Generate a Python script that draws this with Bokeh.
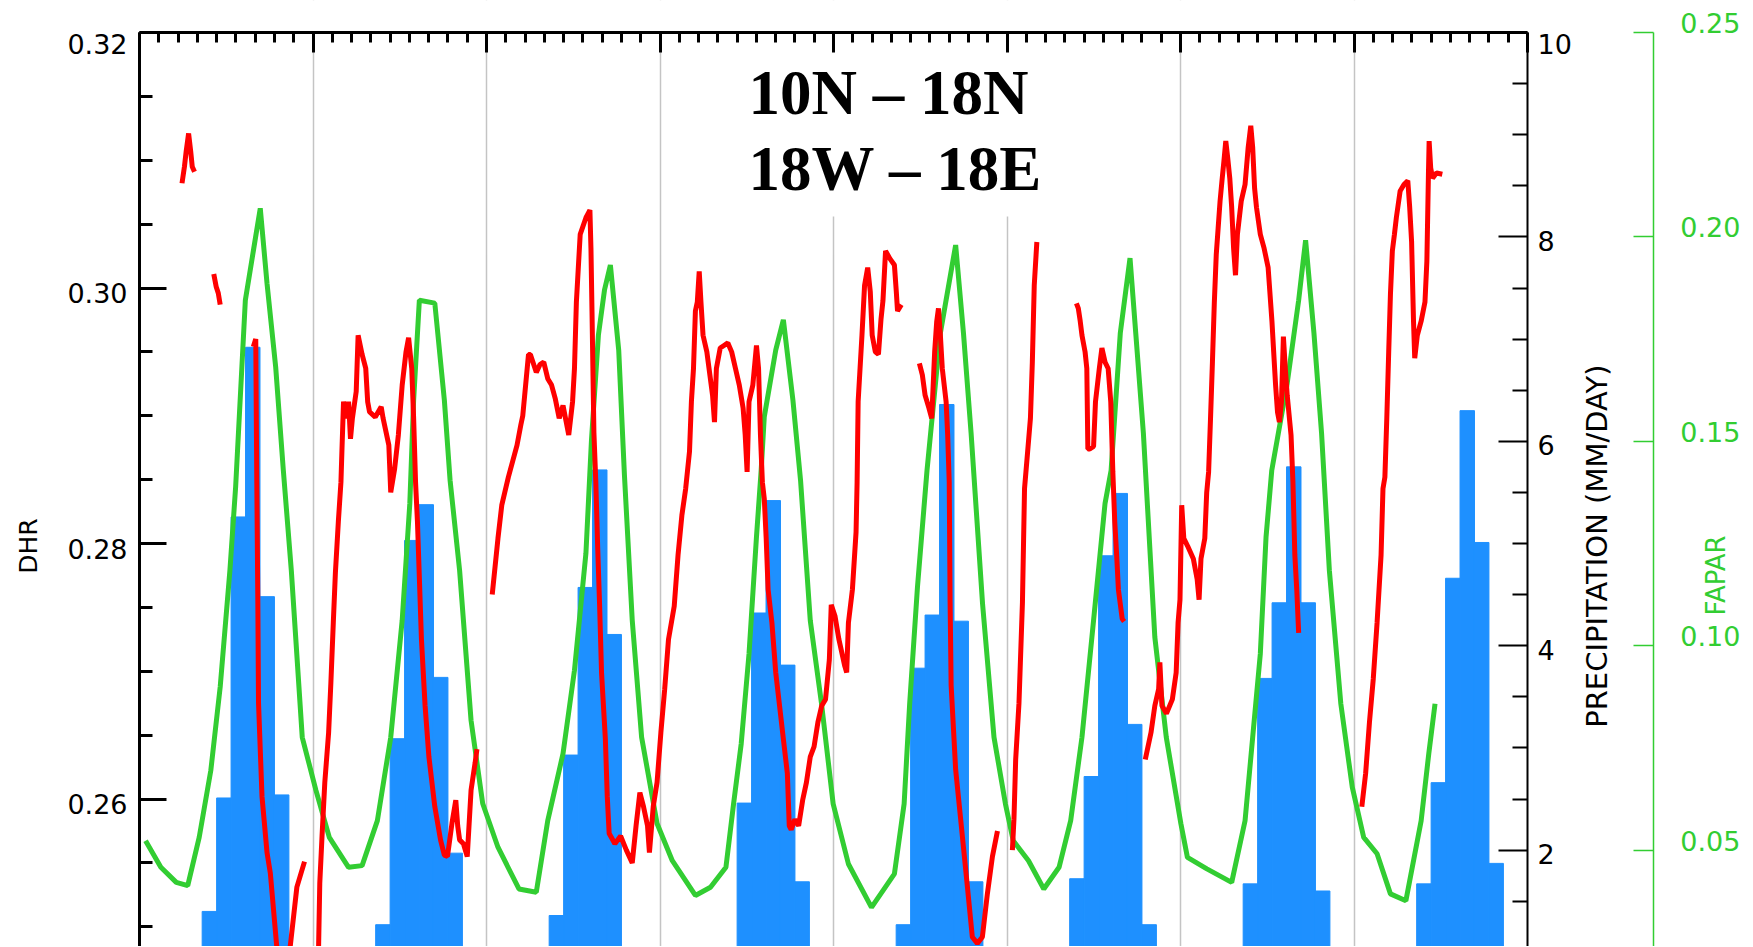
import math
from bokeh.plotting import figure
from bokeh.models import (Range1d, LinearAxis, FixedTicker, PrintfTickFormatter,
                          Grid, BoxAnnotation, Label)
from bokeh.embed import file_html
from bokeh.resources import INLINE

# ---------------- data ----------------
# monthly precipitation (mm/day), months Jan..Dec, one row per season (8 years)
precip_year1 = [0.0, 0.0, 0.1, 0.4, 1.40, 2.51, 5.26, 6.92, 4.48, 2.54, 0.6, 0.0]
precip_year2 = [0.0, 0.0, 0.1, 0.4, 1.27, 3.09, 5.03, 5.38, 3.69, 1.97, 0.5, 0.0]
precip_year3 = [0.0, 0.0, 0.1, 0.5, 1.36, 2.93, 4.57, 5.72, 4.11, 0.9, 0.3, 0.0]
precip_year4 = [0.0, 0.0, 0.1, 0.3, 0.9, 2.46, 4.32, 5.42, 3.81, 1.69, 0.4, 0.0]
precip_year5 = [0.0, 0.0, 0.1, 0.4, 1.27, 3.78, 4.30, 6.36, 4.24, 1.69, 0.4, 0.0]
precip_year6 = [0.0, 0.0, 0.1, 0.5, 1.72, 2.72, 4.88, 5.49, 3.23, 1.27, 0.3, 0.0]
precip_year7 = [0.0, 0.0, 0.1, 0.4, 1.67, 3.68, 4.42, 5.75, 4.42, 1.60, 0.4, 0.0]
precip_year8 = [0.0, 0.0, 0.1, 0.5, 1.67, 2.66, 4.66, 6.30, 5.01, 1.87, 0.4, 0.0]
precip_years = [precip_year1, precip_year2, precip_year3, precip_year4,
                precip_year5, precip_year6, precip_year7, precip_year8]

# FAPAR (time in years from start, value)
fapar_points = [
    (0.035, 0.0523), (0.123, 0.0458), (0.212, 0.0421), (0.278, 0.0413), (0.344, 0.0531),
    (0.411, 0.0695), (0.465, 0.0899), (0.521, 0.1184), (0.554, 0.1388), (0.610, 0.1845),
    (0.657, 0.1968), (0.696, 0.2070), (0.735, 0.1886), (0.785, 0.1681), (0.829, 0.1429),
    (0.875, 0.1184), (0.938, 0.0776), (1.017, 0.0646), (1.094, 0.0531), (1.205, 0.0458),
    (1.283, 0.0462), (1.371, 0.0572), (1.448, 0.0776), (1.514, 0.1062), (1.558, 0.1348),
    (1.580, 0.1601), (1.613, 0.1845), (1.702, 0.1838), (1.757, 0.1601), (1.790, 0.1405),
    (1.845, 0.1184), (1.911, 0.0817), (1.978, 0.0614), (2.066, 0.0507), (2.187, 0.0405),
    (2.287, 0.0397), (2.353, 0.0572), (2.441, 0.0736), (2.507, 0.0940), (2.573, 0.1226),
    (2.605, 0.1503), (2.645, 0.1760), (2.680, 0.1870), (2.714, 0.1931), (2.762, 0.1723),
    (2.795, 0.1417), (2.840, 0.1062), (2.894, 0.0776), (2.983, 0.0565), (3.071, 0.0474),
    (3.204, 0.0389), (3.291, 0.0409), (3.380, 0.0458), (3.424, 0.0613), (3.468, 0.0760),
    (3.513, 0.0980), (3.556, 0.1266), (3.583, 0.1429), (3.601, 0.1560), (3.667, 0.1723),
    (3.711, 0.1797), (3.766, 0.1601), (3.810, 0.1405), (3.866, 0.1062), (3.931, 0.0858),
    (3.998, 0.0613), (4.086, 0.0466), (4.219, 0.0360), (4.351, 0.0442), (4.407, 0.0613),
    (4.439, 0.0858), (4.484, 0.1144), (4.539, 0.1429), (4.616, 0.1765), (4.704, 0.1980),
    (4.749, 0.1765), (4.793, 0.1520), (4.859, 0.1103), (4.925, 0.0776), (4.991, 0.0613),
    (5.036, 0.0523), (5.124, 0.0474), (5.212, 0.0405), (5.300, 0.0458), (5.367, 0.0572),
    (5.432, 0.0776), (5.499, 0.1062), (5.565, 0.1348), (5.600, 0.1429), (5.653, 0.1765),
    (5.709, 0.1948), (5.742, 0.1765), (5.786, 0.1520), (5.852, 0.1021), (5.918, 0.0776),
    (6.002, 0.0565), (6.040, 0.0482), (6.152, 0.0454), (6.295, 0.0421), (6.372, 0.0572),
    (6.416, 0.0776), (6.460, 0.0980), (6.493, 0.1266), (6.526, 0.1429), (6.615, 0.1642),
    (6.681, 0.1845), (6.721, 0.1992), (6.769, 0.1765), (6.813, 0.1520), (6.858, 0.1184),
    (6.924, 0.0858), (6.990, 0.0654), (7.056, 0.0531), (7.133, 0.0491), (7.210, 0.0393),
    (7.299, 0.0376), (7.387, 0.0572), (7.431, 0.0736), (7.467, 0.0858),
]

# DHR segments (time in years from start, value); gaps between segments
dhr_seg_a = [(0.245, 0.3082), (0.259, 0.3095), (0.269, 0.3107), (0.283, 0.3121),
             (0.295, 0.3107), (0.304, 0.3095), (0.317, 0.3091)]
dhr_seg_b = [(0.428, 0.3011), (0.442, 0.3001), (0.454, 0.2996), (0.465, 0.2987)]
dhr_seg_c = [(0.656, 0.2954), (0.670, 0.2960), (0.676, 0.2848), (0.682, 0.2754), (0.686, 0.2675),
             (0.706, 0.2602), (0.735, 0.2558), (0.754, 0.2542), (0.792, 0.2483), (0.829, 0.2448),
             (0.869, 0.2485), (0.907, 0.2531), (0.951, 0.2551)]
dhr_seg_d = [(1.010, 0.2448), (1.032, 0.2483), (1.039, 0.2534), (1.052, 0.2571), (1.068, 0.2613),
             (1.090, 0.2652), (1.103, 0.2691), (1.117, 0.2738), (1.129, 0.2777), (1.146, 0.2817),
             (1.161, 0.2848), (1.167, 0.2874), (1.176, 0.2911), (1.194, 0.2898), (1.205, 0.2911),
             (1.216, 0.2882), (1.227, 0.2898), (1.249, 0.2919), (1.260, 0.2963), (1.283, 0.2948),
             (1.304, 0.2937), (1.315, 0.2911), (1.326, 0.2903), (1.359, 0.2899), (1.393, 0.2907),
             (1.404, 0.2898), (1.437, 0.2877), (1.448, 0.2840), (1.470, 0.2858), (1.492, 0.2885),
             (1.514, 0.2924), (1.536, 0.2950), (1.551, 0.2961), (1.569, 0.2937), (1.580, 0.2898),
             (1.591, 0.2848), (1.602, 0.2817), (1.625, 0.2725), (1.646, 0.2673), (1.668, 0.2633),
             (1.702, 0.2594), (1.735, 0.2568), (1.757, 0.2556), (1.775, 0.2555), (1.801, 0.2581),
             (1.823, 0.2599), (1.834, 0.2579), (1.845, 0.2568), (1.867, 0.2565), (1.889, 0.2555),
             (1.911, 0.2607), (1.934, 0.2628), (1.945, 0.2639)]
dhr_seg_e = [(2.033, 0.2760), (2.066, 0.2804), (2.088, 0.2830), (2.126, 0.2852), (2.176, 0.2877),
             (2.198, 0.2893), (2.209, 0.2900), (2.242, 0.2948), (2.253, 0.2948), (2.287, 0.2934),
             (2.308, 0.2940), (2.330, 0.2942), (2.353, 0.2929), (2.375, 0.2924), (2.397, 0.2913),
             (2.419, 0.2898), (2.441, 0.2908), (2.474, 0.2885), (2.496, 0.2911), (2.507, 0.2937),
             (2.518, 0.2989), (2.540, 0.3042), (2.573, 0.3055), (2.596, 0.3061), (2.602, 0.3031),
             (2.608, 0.2982), (2.619, 0.2887), (2.630, 0.2848), (2.641, 0.2796), (2.652, 0.2751),
             (2.663, 0.2699), (2.685, 0.2647), (2.696, 0.2602), (2.707, 0.2573), (2.740, 0.2565),
             (2.773, 0.2571), (2.806, 0.2560), (2.840, 0.2550), (2.862, 0.2579), (2.884, 0.2605),
             (2.905, 0.2594), (2.928, 0.2579), (2.939, 0.2558), (2.961, 0.2594), (2.983, 0.2613),
             (3.005, 0.2652), (3.027, 0.2686), (3.049, 0.2725), (3.082, 0.2751), (3.104, 0.2791),
             (3.126, 0.2822), (3.148, 0.2843), (3.170, 0.2872), (3.181, 0.2911), (3.193, 0.2937),
             (3.204, 0.2982), (3.215, 0.2989), (3.226, 0.3013), (3.236, 0.2989), (3.248, 0.2963),
             (3.270, 0.2950), (3.303, 0.2916), (3.314, 0.2895), (3.325, 0.2937), (3.347, 0.2953),
             (3.369, 0.2955), (3.391, 0.2957), (3.413, 0.2950), (3.435, 0.2937), (3.457, 0.2924),
             (3.479, 0.2906), (3.491, 0.2885), (3.502, 0.2856), (3.513, 0.2911), (3.535, 0.2924),
             (3.556, 0.2955), (3.568, 0.2937), (3.579, 0.2885), (3.590, 0.2848), (3.601, 0.2835),
             (3.612, 0.2804), (3.623, 0.2764), (3.645, 0.2738), (3.667, 0.2699), (3.689, 0.2673),
             (3.711, 0.2647), (3.734, 0.2620), (3.745, 0.2579), (3.756, 0.2576), (3.777, 0.2584),
             (3.799, 0.2579), (3.822, 0.2599), (3.844, 0.2613), (3.866, 0.2633), (3.888, 0.2641),
             (3.910, 0.2660), (3.932, 0.2673), (3.954, 0.2678), (3.976, 0.2709), (3.987, 0.2752),
             (4.009, 0.2743), (4.031, 0.2725), (4.065, 0.2704), (4.076, 0.2699), (4.086, 0.2738),
             (4.109, 0.2764), (4.130, 0.2809), (4.136, 0.2848), (4.142, 0.2911), (4.164, 0.2963),
             (4.179, 0.3002), (4.197, 0.3016), (4.212, 0.2997), (4.223, 0.2963), (4.241, 0.2950),
             (4.259, 0.2948), (4.274, 0.2976), (4.285, 0.2990), (4.300, 0.3029), (4.325, 0.3023),
             (4.351, 0.3018), (4.362, 0.2997), (4.369, 0.2982), (4.391, 0.2987)]
dhr_seg_f = [(4.495, 0.2941), (4.512, 0.2932), (4.528, 0.2916), (4.550, 0.2906), (4.566, 0.2898),
             (4.573, 0.2919), (4.583, 0.2950), (4.595, 0.2974), (4.605, 0.2984), (4.616, 0.2963),
             (4.627, 0.2937), (4.649, 0.2911), (4.658, 0.2885), (4.667, 0.2848), (4.672, 0.2754),
             (4.678, 0.2689), (4.704, 0.2623), (4.733, 0.2584), (4.772, 0.2531), (4.800, 0.2492),
             (4.829, 0.2487), (4.858, 0.2492), (4.887, 0.2526), (4.916, 0.2555), (4.945, 0.2575)]
dhr_seg_g = [(5.031, 0.2560), (5.040, 0.2584), (5.050, 0.2631), (5.069, 0.2675), (5.089, 0.2754),
             (5.101, 0.2843), (5.119, 0.2872), (5.135, 0.2898), (5.146, 0.2942), (5.157, 0.3002),
             (5.172, 0.3036)]
dhr_seg_h = [(5.400, 0.2988), (5.411, 0.2984), (5.422, 0.2974), (5.432, 0.2963), (5.450, 0.2950),
             (5.460, 0.2937), (5.466, 0.2874), (5.477, 0.2874), (5.499, 0.2876), (5.510, 0.2911),
             (5.532, 0.2937), (5.547, 0.2953), (5.565, 0.2942), (5.583, 0.2937), (5.598, 0.2911),
             (5.610, 0.2856), (5.621, 0.2817), (5.632, 0.2791), (5.642, 0.2764), (5.664, 0.2741),
             (5.675, 0.2739)]
dhr_seg_i = [(5.797, 0.2631), (5.830, 0.2652), (5.852, 0.2673), (5.874, 0.2686), (5.881, 0.2707),
             (5.893, 0.2673), (5.919, 0.2667), (5.953, 0.2678), (5.975, 0.2699), (5.986, 0.2738),
             (5.997, 0.2756), (6.007, 0.2830), (6.019, 0.2804), (6.041, 0.2798), (6.074, 0.2788),
             (6.096, 0.2772), (6.107, 0.2756), (6.118, 0.2788), (6.140, 0.2804), (6.151, 0.2840),
             (6.162, 0.2856), (6.173, 0.2898), (6.184, 0.2942), (6.195, 0.2989), (6.206, 0.3026),
             (6.217, 0.3047), (6.228, 0.3068), (6.239, 0.3084), (6.250, 0.3099), (6.261, 0.3115),
             (6.272, 0.3102), (6.284, 0.3086), (6.295, 0.3063), (6.306, 0.3031), (6.317, 0.3010),
             (6.328, 0.3042), (6.339, 0.3055), (6.350, 0.3068), (6.372, 0.3081), (6.390, 0.3110),
             (6.405, 0.3127), (6.416, 0.3110), (6.427, 0.3078), (6.438, 0.3063), (6.460, 0.3042),
             (6.482, 0.3031), (6.505, 0.3016), (6.516, 0.2995), (6.527, 0.2974), (6.537, 0.2950),
             (6.548, 0.2924), (6.559, 0.2903), (6.570, 0.2895), (6.582, 0.2911), (6.593, 0.2962),
             (6.604, 0.2937), (6.615, 0.2916), (6.637, 0.2885), (6.648, 0.2848), (6.659, 0.2791),
             (6.670, 0.2764), (6.681, 0.2730)]
dhr_seg_j = [(7.045, 0.2594), (7.067, 0.2620), (7.089, 0.2660), (7.111, 0.2694), (7.133, 0.2738),
             (7.156, 0.2791), (7.167, 0.2843), (7.178, 0.2852), (7.189, 0.2898), (7.200, 0.2950),
             (7.210, 0.2995), (7.221, 0.3029), (7.233, 0.3042), (7.244, 0.3055), (7.266, 0.3076),
             (7.288, 0.3081), (7.310, 0.3084), (7.321, 0.3063), (7.332, 0.3036), (7.343, 0.2974),
             (7.350, 0.2945), (7.365, 0.2963), (7.387, 0.2974), (7.409, 0.2989), (7.420, 0.3021),
             (7.429, 0.3089), (7.433, 0.3115), (7.442, 0.3094), (7.453, 0.3086), (7.475, 0.3090),
             (7.509, 0.3089)]
dhr_segments = [dhr_seg_a, dhr_seg_b, dhr_seg_c, dhr_seg_d, dhr_seg_e,
                dhr_seg_f, dhr_seg_g, dhr_seg_h, dhr_seg_i, dhr_seg_j]

dhr_ticks = [0.26, 0.28, 0.30, 0.32]
precip_ticks = [2, 4, 6, 8, 10]
fapar_ticks = [0.05, 0.10, 0.15, 0.20, 0.25]
title_lines = ["10N \u2013 18N", "18W \u2013 18E"]

# ---------------- styling / layout ----------------
RED = "#FF0000"
GREEN = "#32CD32"
BLUE = "#1E90FF"
GREY = "#C4C4C4"
TICK_FONT = "DejaVu Sans"
TICK_SIZE = "27px"
N_YEARS = 8
# the frame covers the whole canvas; axes are drawn at fixed data locations
X_START, X_END = -0.8012, 9.2968
FULL_PX = 1022.0       # pixel height of each full value range
TOP_PAD = 0.03131      # fraction of each value range shown above the top axis
CROP = 0.10568         # fraction of each value range hidden below the picture
FAPAR_AXIS_X = 8.7245
DEKAD_SHIFT = 1.0 / 3  # monthly bars start one dekad into the month


def shown(lo, hi):
    span = hi - lo
    return Range1d(lo + span * CROP, hi + span * TOP_PAD)


def label_positions(values, span, px_down):
    # tick-label anchor positions, nudged by a few pixels like the original plot
    return [v - d * span / FULL_PX for v, d in zip(values, px_down)]


p = figure(width=1752, height=946, output_backend="svg", toolbar_location=None,
           x_range=Range1d(X_START, X_END), y_range=shown(0.24, 0.32),
           x_axis_location=None, y_axis_location=None,
           min_border=0, min_border_left=0, min_border_right=0,
           min_border_top=0, min_border_bottom=0)
p.outline_line_color = None
p.background_fill_color = "white"
p.border_fill_color = "white"
for r in list(p.center):
    if isinstance(r, Grid):
        r.visible = False

p.extra_y_ranges = {"precip": shown(0, 10), "fapar": shown(0, 0.25)}

# year separator lines
year_grid = Grid(dimension=0, ticker=FixedTicker(ticks=list(range(1, N_YEARS))),
                 grid_line_color=GREY, grid_line_width=1.5)
p.add_layout(year_grid, "center")
# white cover above the top axis and behind the title
p.add_layout(BoxAnnotation(bottom=0.32, fill_color="white", fill_alpha=1.0,
                           line_color=None, level="underlay"))
p.add_layout(BoxAnnotation(left=3.45, right=5.35, bottom=0.3056,
                           fill_color="white", fill_alpha=1.0, line_color=None,
                           level="underlay"))

# precipitation bars
bar_x, bar_top = [], []
for yi, row in enumerate(precip_years):
    for m, v in enumerate(row):
        bar_x.append(yi + (m + DEKAD_SHIFT + 0.5) / 12.0)
        bar_top.append(v)
p.vbar(x=bar_x, top=bar_top, bottom=0, width=1.0 / 12, y_range_name="precip",
       fill_color=BLUE, line_color=BLUE, line_width=1)

# FAPAR line
p.line([t for t, _ in fapar_points], [v for _, v in fapar_points],
       y_range_name="fapar", line_color=GREEN, line_width=5)

# DHR line with gaps
dx, dy = [], []
for seg in dhr_segments:
    if dx:
        dx.append(float("nan"))
        dy.append(float("nan"))
    dx += [t for t, _ in seg]
    dy += [v for _, v in seg]
p.line(dx, dy, line_color=RED, line_width=5)

# ---------------- axes ----------------
top_ax = LinearAxis(
    fixed_location=0.32, bounds=(0, N_YEARS),
    ticker=FixedTicker(ticks=list(range(0, N_YEARS + 1)),
                       minor_ticks=[k / 9 for k in range(1, 9 * N_YEARS) if k % 9]),
    major_tick_in=20, major_tick_out=0, minor_tick_in=10, minor_tick_out=0,
    major_tick_line_width=3, minor_tick_line_width=3, axis_line_width=3,
    major_label_text_color=None, major_label_standoff=0)
p.add_layout(top_ax, "above")

# DHR axis: rule and ticks, then a label-only axis
dhr_minor = [0.25, 0.255, 0.265, 0.27, 0.275, 0.285, 0.29, 0.295, 0.305, 0.31, 0.315]
left_ax = LinearAxis(
    fixed_location=0, bounds=(0.24, 0.32),
    ticker=FixedTicker(ticks=dhr_ticks, minor_ticks=dhr_minor),
    major_tick_in=27, major_tick_out=0, minor_tick_in=13, minor_tick_out=0,
    major_tick_line_width=3, minor_tick_line_width=3, axis_line_width=3,
    major_label_text_color=None)
p.add_layout(left_ax, "left")
left_lbl = LinearAxis(
    fixed_location=0,
    ticker=FixedTicker(ticks=label_positions(dhr_ticks, 0.08, [5, 5, 5, 12]), minor_ticks=[]),
    formatter=PrintfTickFormatter(format="%.2f"),
    axis_line_color=None, major_tick_line_color=None, minor_tick_line_color=None,
    major_tick_in=0, major_tick_out=0, minor_tick_in=0, minor_tick_out=0,
    major_label_standoff=12, major_label_text_font=TICK_FONT,
    major_label_text_font_size=TICK_SIZE, major_label_text_color="black")
p.add_layout(left_lbl, "left")

# precipitation axis
precip_minor = [1.5, 2.5, 3, 3.5, 4.5, 5, 5.5, 6.5, 7, 7.5, 8.5, 9, 9.5]
precip_ax = LinearAxis(
    y_range_name="precip", fixed_location=N_YEARS, bounds=(0, 10),
    ticker=FixedTicker(ticks=precip_ticks, minor_ticks=precip_minor),
    major_tick_in=29, major_tick_out=0, minor_tick_in=15, minor_tick_out=0,
    major_tick_line_width=2, minor_tick_line_width=2, axis_line_width=2,
    major_label_text_color=None)
p.add_layout(precip_ax, "right")
precip_lbl = LinearAxis(
    y_range_name="precip", fixed_location=N_YEARS,
    ticker=FixedTicker(ticks=label_positions(precip_ticks, 10, [4, 4, 4, 4, 12]), minor_ticks=[]),
    formatter=PrintfTickFormatter(format="%.0f"),
    axis_line_color=None, major_tick_line_color=None, minor_tick_line_color=None,
    major_tick_in=0, major_tick_out=0, minor_tick_in=0, minor_tick_out=0,
    major_label_standoff=10, major_label_text_font=TICK_FONT,
    major_label_text_font_size=TICK_SIZE, major_label_text_color="black")
p.add_layout(precip_lbl, "right")

# FAPAR axis
fapar_ax = LinearAxis(
    y_range_name="fapar", fixed_location=FAPAR_AXIS_X, bounds=(0, 0.25),
    ticker=FixedTicker(ticks=fapar_ticks, minor_ticks=[]),
    major_tick_in=20, major_tick_out=0, minor_tick_in=0, minor_tick_out=0,
    axis_line_color=GREEN, major_tick_line_color=GREEN, minor_tick_line_color=None,
    axis_line_width=1.5, major_tick_line_width=1.5,
    major_label_text_color=None)
p.add_layout(fapar_ax, "right")
fapar_lbl = LinearAxis(
    y_range_name="fapar", fixed_location=FAPAR_AXIS_X,
    ticker=FixedTicker(ticks=label_positions(fapar_ticks, 0.25, [-9.5] * 5), minor_ticks=[]),
    formatter=PrintfTickFormatter(format="%.2f"),
    axis_line_color=None, major_tick_line_color=None, minor_tick_line_color=None,
    major_tick_in=0, major_tick_out=0, minor_tick_in=0, minor_tick_out=0,
    major_label_standoff=27, major_label_text_font=TICK_FONT,
    major_label_text_font_size=TICK_SIZE, major_label_text_color=GREEN)
p.add_layout(fapar_lbl, "right")

# axis titles
p.add_layout(Label(x=-0.640, y=0.2798, text="DHR", angle=math.pi / 2,
                   text_align="center", text_baseline="middle",
                   text_font=TICK_FONT, text_font_size="25px", text_color="black"))
p.add_layout(Label(x=8.403, y=0.2798, text="PRECIPITATION (MM/DAY)", angle=math.pi / 2,
                   text_align="center", text_baseline="middle",
                   text_font=TICK_FONT, text_font_size="29px", text_color="black"))
p.add_layout(Label(x=9.0836, y=0.2775, text="FAPAR", angle=math.pi / 2,
                   text_align="center", text_baseline="middle",
                   text_font=TICK_FONT, text_font_size="26px", text_color=GREEN))

# region title
for line_text, ypos in zip(title_lines, [0.31525, 0.30935]):
    p.add_layout(Label(x=3.51, y=ypos, text=line_text, text_align="left",
                       text_baseline="alphabetic", text_font="Liberation Serif",
                       text_font_style="bold", text_font_size="63px", text_color="black"))

open("out.html", "w").write(file_html(p, INLINE, title="DHR FAPAR precipitation"))
